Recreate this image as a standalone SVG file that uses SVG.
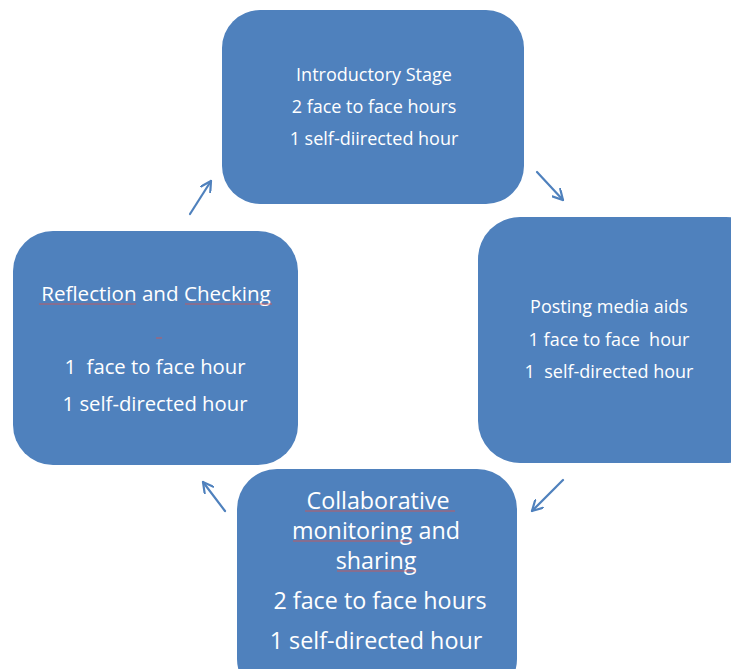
<svg xmlns="http://www.w3.org/2000/svg" width="731" height="669" viewBox="0 0 731 669">
<style>
.box{fill:#4F81BD;}
.t{fill:#fff;font-family:"Open Sans","Liberation Sans",sans-serif;text-anchor:middle;}
.s{stroke:#D9534F;stroke-width:1;opacity:0.8;fill:none;}
.c{stroke:#4F81BD;stroke-width:2.2;fill:none;stroke-linecap:round;}
</style>
<defs>
<marker id="ah" viewBox="0 0 12 12" refX="11" refY="6" markerWidth="12" markerHeight="12" markerUnits="userSpaceOnUse" orient="auto">
<path d="M1,0.5 L11,6 L1,11.5" fill="none" stroke="#4F81BD" stroke-width="2.2" stroke-linecap="round"/>
</marker>
</defs>
<rect width="731" height="669" fill="#fff"/>
<g id="top">
<rect class="box" x="222" y="10" width="302" height="194" rx="38"/>
<text class="t" x="374" y="81" font-size="18">Introductory Stage</text>
<text class="t" x="374" y="113" font-size="18">2 face to face hours</text>
<text class="t" x="374" y="145" font-size="18">1 self-diirected hour</text>
</g>
<g id="right">
<rect class="box" x="478" y="217" width="290" height="246" rx="42"/>
<text class="t" x="609" y="313" font-size="18">Posting media aids</text>
<text class="t" x="609" y="346" font-size="18" xml:space="preserve">1 face to face  hour</text>
<text class="t" x="609" y="378" font-size="18" xml:space="preserve">1  self-directed hour</text>
</g>
<g id="bottom">
<rect class="box" x="237" y="469" width="280" height="230" rx="40"/>
<text class="t" x="378" y="509" font-size="23.3">Collaborative</text>
<text class="t" x="376" y="539" font-size="23.3">monitoring and</text>
<text class="t" x="376" y="569" font-size="23.3">sharing</text>
<text class="t" x="380" y="609" font-size="23.3">2 face to face hours</text>
<text class="t" x="376" y="649" font-size="23.3">1 self-directed hour</text>
<path class="s" d="M305,511 H455 M293,541 H412 M337,571 H415"/>
</g>
<g id="left">
<rect class="box" x="13" y="231" width="285" height="234" rx="40"/>
<text class="t" x="156" y="301" font-size="20.6">Reflection and Checking</text>
<text class="t" x="155" y="374" font-size="20.3" xml:space="preserve">1  face to face hour</text>
<text class="t" x="155" y="411" font-size="20.3">1 self-directed hour</text>
<path class="s" d="M39,304 H136 M185,304 H272 M156,338 H162"/>
</g>
<g id="connectors">
<path class="c" d="M190,214 L211,181" marker-end="url(#ah)"/>
<path class="c" d="M537,172 L563,200" marker-end="url(#ah)"/>
<path class="c" d="M563,480 L532,511" marker-end="url(#ah)"/>
<path class="c" d="M225,511 L203,482" marker-end="url(#ah)"/>
</g>
</svg>
